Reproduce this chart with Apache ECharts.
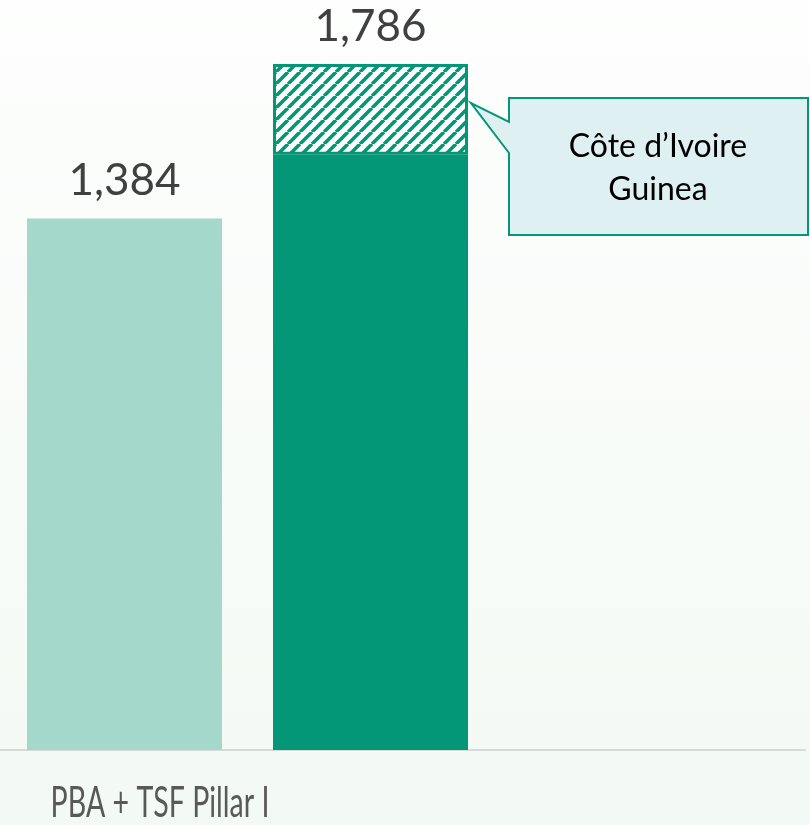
<!DOCTYPE html>
<html>
<head>
<meta charset="utf-8">
<script src="https://cdn.jsdelivr.net/npm/echarts@6/dist/echarts.min.js"></script>
<style>html,body{margin:0;padding:0;}#c{width:810px;height:825px;}</style>
</head>
<body>
<div id="c"></div>
<script>
// ---- data ----
const categories = ['PBA + TSF Pillar I'];
const seriesNames = ['PBA', 'Eligible', 'Côte d’Ivoire / Guinea'];
const pbaValues = [1384];
const solidValues = [1550];
const hatchedValues = [236];
const calloutLines = ['Côte d’Ivoire', 'Guinea'];

const GREEN = '#039677';
const LIGHT = '#a3d8ca';

function fmt(v) { return Number(v).toLocaleString('en-US'); }

// hatch pattern
const P = 12;
const cv = document.createElement('canvas');
cv.width = P; cv.height = P;
const ctx = cv.getContext('2d');
ctx.fillStyle = '#ffffff'; ctx.fillRect(0, 0, P, P);
ctx.strokeStyle = GREEN; ctx.lineWidth = 3.6;
ctx.beginPath();
for (let k = -1; k <= 1; k++) { ctx.moveTo(k * P, P); ctx.lineTo(k * P + P, 0); }
ctx.stroke();

const chart = echarts.init(document.getElementById('c'), null, {renderer: 'canvas'});
const labelStyle = {
  show: true, position: 'top', distance: 16,
  fontFamily: 'Lato', fontSize: 44, color: '#404040', lineHeight: 44
};
chart.setOption({
  animation: false,
  backgroundColor: {
    type: 'linear', x: 0, y: 0, x2: 0, y2: 1,
    colorStops: [{offset: 0, color: '#fdfefd'}, {offset: 1, color: '#f3f9f4'}]
  },
  grid: {left: 0, right: 5, top: 1, bottom: 75},
  xAxis: {
    type: 'category', data: categories,
    axisLine: {lineStyle: {color: '#d9d9d9', width: 2}},
    axisTick: {show: false},
    axisLabel: {show: false}
  },
  yAxis: {type: 'value', min: 0, max: 1950, show: false, splitLine: {show: false}},
  series: [
    {
      name: seriesNames[0], type: 'bar', data: pbaValues, barWidth: 195, barGap: '26.15%',
      itemStyle: {color: LIGHT},
      label: Object.assign({}, labelStyle, {formatter: p => fmt(p.value)})
    },
    {
      name: seriesNames[1], type: 'bar', stack: 'b', data: solidValues, barWidth: 195, barGap: '26.15%',
      itemStyle: {color: GREEN}
    },
    {
      name: seriesNames[2], type: 'bar', stack: 'b', data: hatchedValues, barWidth: 195, barGap: '26.15%',
      itemStyle: {color: {image: cv, repeat: 'repeat'}, borderColor: GREEN, borderWidth: 3},
      label: Object.assign({}, labelStyle, {distance: 15, formatter: p => fmt(solidValues[p.dataIndex] + hatchedValues[p.dataIndex])})
    },
    {
      name: 'spacer', type: 'bar', data: [0], barWidth: 259, barGap: '26.15%',
      itemStyle: {color: 'rgba(0,0,0,0)'}, silent: true
    }
  ],
  graphic: [
    {
      type: 'text', x: 160, y: 803, scaleX: 0.68,
      style: {
        text: categories[0], fontFamily: 'Lato', fontSize: 42,
        fill: '#595959', textAlign: 'center', textVerticalAlign: 'middle'
      }
    },
    {
      type: 'polygon',
      shape: {points: [[509, 98], [808, 98], [808, 235], [509, 235], [509, 153], [471, 103], [509, 122]]},
      style: {fill: '#dff0f2', stroke: GREEN, lineWidth: 2}
    },
    {
      type: 'text', x: 658, y: 168,
      style: {
        text: calloutLines.join('\n'), fontFamily: 'Lato', fontSize: 32, lineHeight: 43,
        fill: '#000000', textAlign: 'center', textVerticalAlign: 'middle'
      }
    }
  ]
});
</script>
</body>
</html>
